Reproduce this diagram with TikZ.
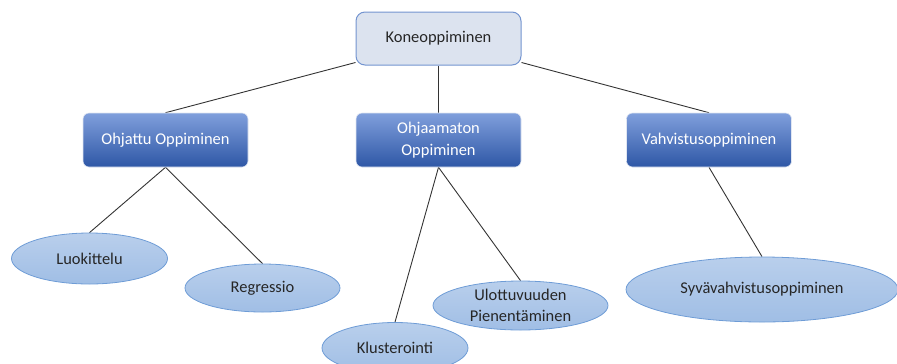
\documentclass[tikz,border=0pt]{standalone}
\usepackage{fontspec}
\setmainfont{Carlito}
\usetikzlibrary{shapes.geometric,backgrounds}

\definecolor{rootfill}{HTML}{DCE3EF}
\definecolor{rootedge}{HTML}{7394D0}
\definecolor{boxtop}{HTML}{809FDC}
\definecolor{boxbot}{HTML}{2E57A6}
\definecolor{ovaltop}{HTML}{B9CFEC}
\definecolor{ovalbot}{HTML}{A0BEE5}
\definecolor{ovaledge}{HTML}{6E9CD6}
\definecolor{txtdark}{HTML}{262626}

\tikzset{
  labelfont/.style={font=\fontsize{16.5}{21.5}\selectfont},
  rootbox/.style={labelfont, draw=rootedge, line width=1pt, fill=rootfill, rounded corners=9bp,
    minimum width=165bp, minimum height=53bp, text=txtdark},
  catbox/.style={labelfont, draw=white!85!boxbot, line width=0.6pt, top color=boxtop, bottom color=boxbot,
    rounded corners=6bp, minimum width=165bp, minimum height=54bp, text=white, align=center},
  leaf/.style={labelfont, ellipse, draw=ovaledge, line width=0.8pt, top color=ovaltop, bottom color=ovalbot,
    inner sep=0pt, text=txtdark, align=center},
  link/.style={draw=black!80, line width=0.9pt}
}

\begin{document}
\begin{tikzpicture}[x=1bp,y=-1bp]
\useasboundingbox (0,0) rectangle (897,363);

\node[rootbox] (root) at (438.5,38.5) {Koneoppiminen};

\node[catbox] (sup)   at (165.5,140) {Ohjattu Oppiminen};
\node[catbox] (unsup) at (438.5,140) {Ohjaamaton\\Oppiminen};
\node[catbox] (rl)    at (709,140)   {Vahvistusoppiminen};

\node[leaf, minimum width=156bp, minimum height=51bp] (cls)  at (89.5,258.5) {Luokittelu};
\node[leaf, minimum width=155bp, minimum height=48bp] (reg)  at (262.5,288)  {Regressio};
\node[leaf, minimum width=146bp, minimum height=51bp] (clu)  at (395,348)    {Klusterointi};
\node[leaf, minimum width=175bp, minimum height=49bp] (dim)  at (520.5,305.5) {Ulottuvuuden\\Pienentäminen};
\node[leaf, minimum width=272bp, minimum height=65bp] (deep) at (762,289.5)  {Syvävahvistusoppiminen};

\begin{scope}[on background layer]
  \draw[link] (root.south west) ++(0,-3) -- (sup.north);
  \draw[link] (root.south) -- (unsup.north);
  \draw[link] (root.south east) ++(0,-3) -- (rl.north);
  \draw[link] (sup.south) -- (cls.north);
  \draw[link] (sup.south) -- (reg.north);
  \draw[link] (unsup.south) -- (clu.north);
  \draw[link] (unsup.south) -- (dim.north);
  \draw[link] (rl.south) -- (deep.north);
\end{scope}
\end{tikzpicture}
\end{document}
